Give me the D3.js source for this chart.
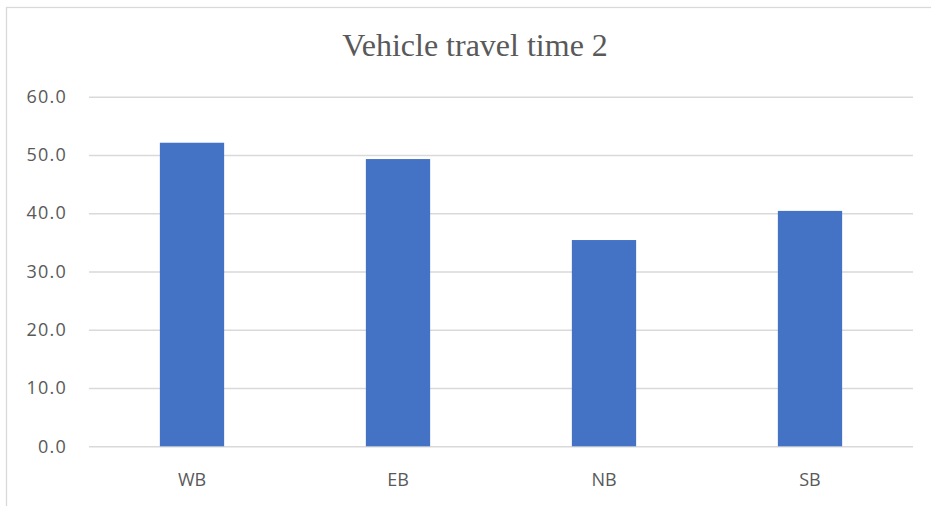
<!DOCTYPE html>
<html>
<head>
<meta charset="utf-8">
<script src="https://cdn.jsdelivr.net/npm/d3@7"></script>
<style>
  html, body { margin: 0; padding: 0; background: #fff; }
  svg { display: block; }
</style>
</head>
<body>
<svg id="chart" width="931" height="506"></svg>
<script>
// Travel time per approach direction
const categories = ["WB", "EB", "NB", "SB"];
const travelTime = [52.1, 49.3, 35.4, 40.4];
const yTicks = [0, 10, 20, 30, 40, 50, 60];
const chartTitle = "Vehicle travel time 2";

const svg = d3.select("#chart");
const W = 931, H = 506;
const plot = { left: 89, right: 913, top: 96.7, bottom: 446.3 };

// Outer chart frame
svg.append("rect")
  .attr("x", 6.5).attr("y", 7.5)
  .attr("width", W + 10).attr("height", H + 10)
  .attr("fill", "#fff")
  .attr("stroke", "#d9d9d9")
  .attr("stroke-width", 1.3);

const x = d3.scaleBand()
  .domain(categories)
  .range([plot.left, plot.right])
  .paddingInner(0.688)
  .paddingOuter(0.344);

const y = d3.scaleLinear()
  .domain([0, 60])
  .range([plot.bottom, plot.top]);

// Horizontal gridlines with value labels
const yAxis = d3.axisLeft(y)
  .tickValues(yTicks)
  .tickFormat(d3.format(".1f"))
  .tickSize(-(plot.right - plot.left))
  .tickPadding(22);

const gy = svg.append("g")
  .attr("transform", `translate(${plot.left},0)`)
  .call(yAxis);
gy.select(".domain").remove();
gy.selectAll(".tick line")
  .attr("stroke", "#d9d9d9")
  .attr("stroke-width", 1.5);
gy.selectAll(".tick text")
  .attr("fill", "#595959")
  .style("font-family", "'Open Sans', sans-serif")
  .style("font-size", "18px")
  .style("letter-spacing", "1.2px");

// Bars
svg.append("g")
  .selectAll("rect")
  .data(categories)
  .join("rect")
  .attr("x", d => x(d))
  .attr("width", x.bandwidth())
  .attr("y", (d, i) => y(travelTime[i]))
  .attr("height", (d, i) => y(0) - y(travelTime[i]))
  .attr("fill", "#4472c4");

// Category axis
const xAxis = d3.axisBottom(x).tickSize(0).tickPadding(27);
const gx = svg.append("g")
  .attr("transform", `translate(0,${plot.bottom})`)
  .call(xAxis);
gx.select(".domain").remove();
gx.selectAll(".tick text")
  .attr("fill", "#595959")
  .style("font-family", "'Open Sans', sans-serif")
  .style("font-size", "18px");

// Title
svg.append("text")
  .attr("x", 475)
  .attr("y", 56)
  .attr("text-anchor", "middle")
  .attr("fill", "#595959")
  .style("font-family", "'Liberation Serif', 'Times New Roman', serif")
  .style("font-size", "32px")
  .text(chartTitle);
</script>
</body>
</html>
